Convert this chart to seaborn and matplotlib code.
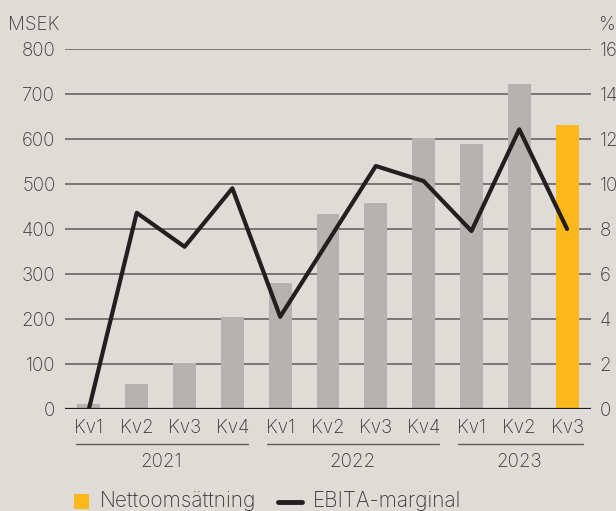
import matplotlib
matplotlib.use('Agg')
import matplotlib.pyplot as plt
import matplotlib.transforms as mtransforms
from matplotlib.patches import Rectangle
from matplotlib.lines import Line2D
import seaborn as sns
import pandas as pd
import numpy as np

# Data
years = ['2021', '2022', '2023']
quarters = ['Kv1', 'Kv2', 'Kv3', 'Kv4', 'Kv1', 'Kv2', 'Kv3', 'Kv4', 'Kv1', 'Kv2', 'Kv3']
quarter_year = ['2021', '2021', '2021', '2021', '2022', '2022', '2022', '2022', '2023', '2023', '2023']
net_sales = [12, 56, 102, 204, 279, 433, 458, 602, 589, 722, 631]          # MSEK
ebita_margin = [0.0, 8.72, 7.21, 9.81, 4.1, 7.45, 10.8, 10.13, 7.91, 12.43, 8.0]  # %
left_ticks = [0, 100, 200, 300, 400, 500, 600, 700, 800]
right_ticks = [0, 2, 4, 6, 8, 10, 12, 14, 16]

bg = '#dfdcd8'
grey_bar = '#b5b2af'
yellow = '#fbb81b'
dark = '#231f20'
txt = '#3a3635'

sns.set_theme(style='white')
plt.rcParams['font.family'] = ['Inter', 'DejaVu Sans']
plt.rcParams['font.weight'] = 'light'
plt.rcParams['text.color'] = txt

df = pd.DataFrame({
    'period': [y + ' ' + q for y, q in zip(quarter_year, quarters)],
    'sales': net_sales,
    'margin': ebita_margin,
    'current': [False] * (len(net_sales) - 1) + [True],
})
df['pos'] = np.arange(len(df))

W, H = 616, 511
fig = plt.figure(figsize=(6.16, 5.11), dpi=100, facecolor=bg)
ax = fig.add_axes([65 / W, 1 - 409 / H, 526 / W, 360 / H])
ax.set_facecolor(bg)

sns.barplot(data=df, x='period', y='sales', hue='current',
            palette={False: grey_bar, True: yellow}, width=0.48,
            dodge=False, legend=False, saturation=1, linewidth=0,
            edgecolor='none', ax=ax, zorder=2)
ax.set_xlim(-0.5, len(df) - 0.5)
ax.set_ylim(0, 800)
ax.set_yticks(left_ticks)
ax.yaxis.grid(True, color='#5e5a58', lw=1.1, zorder=0)
ax.set_axisbelow(True)
ax.axhline(0, color=dark, lw=1.6, zorder=3)
ax.set_xticks(df['pos'])
ax.set_xticklabels(quarters)
ax.set_xlabel('')
ax.set_ylabel('')
ax.tick_params(axis='both', length=0, labelsize=13.5, colors=txt)
ax.tick_params(axis='x', pad=7)
ax.tick_params(axis='y', pad=7)
for s in ax.spines.values():
    s.set_visible(False)

ax2 = ax.twinx()
sns.lineplot(data=df, x='pos', y='margin', color=dark, lw=3, ax=ax2, zorder=4)
ax2.set_ylim(0, 16)
ax2.set_yticks(right_ticks)
ax2.set_ylabel('')
ax2.set_xlabel('')
ax2.tick_params(axis='y', length=0, labelsize=13.5, colors=txt, pad=6)
for s in ax2.spines.values():
    s.set_visible(False)
ax2.set_xlim(-0.5, len(df) - 0.5)

# unit labels
fig.text(8 / W, 1 - 25 / H, 'MSEK', fontsize=13.5, va='center', ha='left')
fig.text(598 / W, 1 - 25 / H, '%', fontsize=13.5, va='center', ha='left')

# year groups
trans = mtransforms.blended_transform_factory(ax.transData, ax.transAxes)
for yr in years:
    idx = [i for i, y in enumerate(quarter_year) if y == yr]
    x0, x1 = idx[0] - 0.28, idx[-1] + 0.33
    ax.plot([x0, x1], [-0.097, -0.097], color='#5e5a58', lw=1, transform=trans, clip_on=False)
    ax.text((idx[0] + idx[-1]) / 2, -0.147, yr, transform=trans, ha='center', va='center',
            fontsize=13.5, color=txt)

# legend (drawn by hand to match the reference spacing)
fig.add_artist(Rectangle((74 / W, 1 - 509 / H), 15 / W, 15 / H, facecolor=yellow,
                         edgecolor='none', transform=fig.transFigure))
fig.text(100 / W, 1 - 507 / H, 'Nettoomsättning', fontsize=15, va='baseline', ha='left')
fig.add_artist(Line2D([278 / W, 302 / W], [1 - 502 / H, 1 - 502 / H], color=dark, lw=3.5,
                      transform=fig.transFigure))
fig.text(313 / W, 1 - 507 / H, 'EBITA-marginal', fontsize=15, va='baseline', ha='left')

fig.savefig('out.png', dpi=100, facecolor=bg)
